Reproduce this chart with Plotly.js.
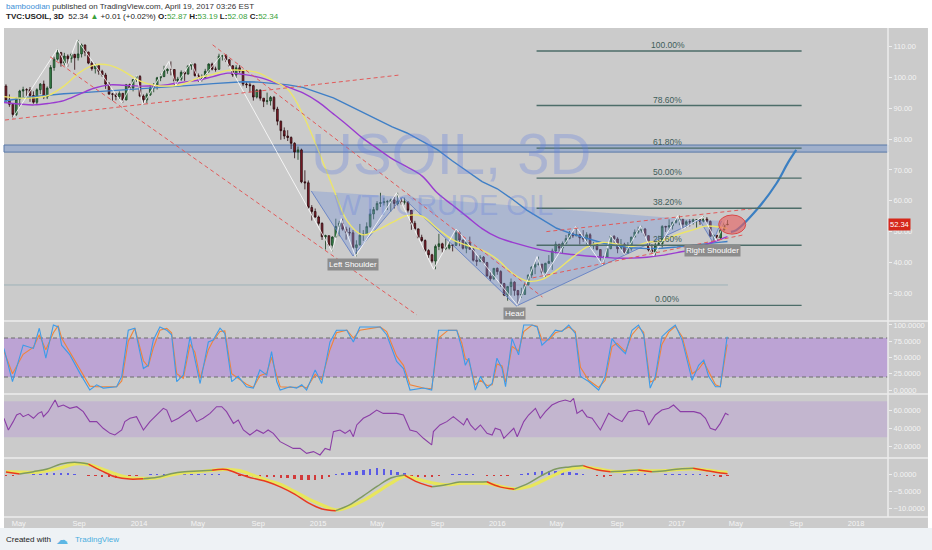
<!DOCTYPE html>
<html><head><meta charset="utf-8">
<script src="https://cdn.plot.ly/plotly-3.0.1.min.js"></script>
<style>html,body{margin:0;padding:0;background:#fff;}#chart{width:932px;height:550px;}</style>
</head><body><div id="chart"></div>
<script>
// ---------- DATA ----------
const firstOpen = 97.23;
const closes = [92.70,91.29,88.01,93.00,95.61,96.04,96.02,94.15,91.97,96.03,97.85,93.69,96.56,103.22,105.95,108.05,104.70,106.94,106.10,107.46,106.42,107.65,110.53,108.21,104.67,102.87,103.84,102.02,100.81,97.85,94.61,94.60,93.84,94.84,92.72,97.65,96.60,99.32,100.32,
93.96,92.72,94.37,96.64,97.49,99.88,100.30,102.20,102.59,102.58,98.89,99.46,101.67,101.14,103.74,104.30,100.60,99.76,99.99,102.02,104.35,102.71,102.66,106.91,107.26,105.74,103.77,100.83,103.13,102.09,97.88,97.65,97.35,93.65,95.96,93.29,92.27,92.41,93.54,89.74,85.82,82.75,81.01,80.54,78.65,75.82,76.51,66.15,65.84,57.81,56.52,54.73,
52.69,48.36,48.69,45.59,48.24,51.69,52.78,50.81,49.76,49.61,44.84,45.72,48.87,49.14,51.64,55.74,57.15,59.15,59.39,59.69,59.72,60.30,59.13,59.96,59.61,59.63,56.93,52.74,50.89,48.14,47.12,43.87,42.50,40.45,45.22,46.05,44.63,44.68,45.70,45.54,49.63,47.26,44.60,46.59,44.29,40.74,40.39,41.71,39.97,35.62,34.73,38.10,
37.04,33.16,29.42,32.19,33.62,30.89,29.44,29.64,32.78,35.92,38.50,39.44,39.46,36.79,39.72,40.36,43.73,45.92,44.66,46.21,47.75,49.33,48.62,49.07,47.98,47.64,48.99,45.41,45.95,44.19,41.60,41.80,44.49,48.52,47.64,44.44,45.88,43.03,44.48,48.24,49.81,50.35,50.85,48.70,44.07,43.41,45.69,46.06,51.68,51.50,51.90,53.02,53.72,
53.99,52.37,53.22,53.17,53.83,53.86,53.40,54.05,53.33,48.49,48.78,47.97,50.60,52.24,52.34];
const highs = [97.8,94.5,91.5,93.5,96.0,97.0,96.5,96.9,95.5,96.5,98.2,99.0,97.1,104.0,106.7,109.3,108.3,108.0,107.5,108.0,107.7,112.2,111.0,110.7,108.4,105.3,104.5,104.0,102.5,101.5,98.5,95.0,95.0,95.5,95.0,97.9,98.0,99.5,100.7,
100.8,94.5,95.0,97.8,98.2,100.2,101.2,103.8,103.0,105.2,102.5,100.2,102.3,102.0,104.0,104.9,104.7,101.3,101.0,102.8,104.6,104.8,103.5,107.7,107.7,107.5,106.0,104.0,104.0,104.0,102.5,98.6,98.4,97.6,96.2,96.0,93.3,95.1,94.0,94.0,90.5,86.0,83.8,82.9,80.9,79.0,77.6,76.9,69.9,66.6,58.6,57.5,
55.2,53.0,49.0,48.7,48.5,54.2,53.5,54.2,51.6,51.3,50.5,47.2,52.5,50.5,53.0,57.4,58.0,59.9,62.6,61.0,60.3,60.7,61.3,62.6,61.0,61.0,59.8,57.0,53.5,51.0,49.0,47.5,44.3,42.8,45.8,49.3,46.4,47.7,47.0,46.0,50.9,50.1,47.4,47.0,48.4,44.8,42.2,42.4,42.1,40.2,37.0,38.2,
38.4,37.5,33.4,32.4,34.8,33.9,31.1,31.8,33.5,36.1,38.8,40.2,41.9,39.5,39.9,42.4,44.5,46.8,46.0,46.8,48.9,50.2,50.0,51.7,49.1,50.5,49.8,49.5,46.7,46.4,44.2,42.2,44.6,48.8,48.8,48.2,47.6,46.4,46.6,48.3,50.7,51.6,51.9,51.2,48.8,45.9,46.4,48.7,52.1,51.9,54.0,53.2,54.3,
55.2,54.0,53.7,54.0,54.2,53.9,54.0,54.9,54.7,53.6,49.1,48.8,50.9,52.9,53.8];
const lows = [92.0,90.5,86.7,87.5,90.5,93.5,93.0,92.1,91.5,91.2,94.6,93.0,93.0,96.3,102.2,105.5,103.5,103.9,103.5,104.8,102.5,105.5,106.5,106.9,104.3,102.2,101.3,100.9,100.2,96.3,94.4,92.5,92.6,92.8,91.8,92.6,96.0,95.5,98.6,
93.6,91.2,91.6,94.0,95.2,96.1,98.8,100.1,101.2,100.7,97.4,97.7,98.9,98.9,100.9,102.5,100.3,98.6,98.7,99.9,101.5,102.3,101.9,102.5,105.5,105.0,103.5,100.2,99.9,101.5,97.2,96.6,95.1,92.5,93.2,92.5,90.4,91.2,90.9,88.9,84.5,79.8,80.0,79.4,76.8,73.8,73.3,65.7,63.7,57.3,53.6,54.5,
52.0,47.3,44.2,45.2,43.6,48.0,48.5,50.3,47.4,48.7,44.4,42.0,45.5,47.0,49.0,51.2,54.0,56.8,58.0,58.5,57.0,56.5,57.5,58.5,58.8,58.8,56.2,50.6,50.4,47.7,46.7,43.3,41.4,39.9,37.8,44.0,43.2,44.0,44.2,43.6,45.5,45.3,44.2,43.0,44.1,40.3,38.9,40.1,39.5,35.4,34.0,34.3,
36.0,32.1,29.1,27.6,29.3,29.2,26.1,28.5,29.5,32.5,35.0,36.2,39.0,36.1,35.3,39.5,37.6,42.9,43.0,43.0,45.9,47.5,48.0,48.6,45.8,46.7,45.8,44.7,44.3,43.9,40.6,39.2,41.6,44.3,46.0,43.0,44.2,42.6,42.9,43.8,48.1,49.3,49.7,48.3,43.6,43.0,42.2,45.5,44.8,49.9,50.3,50.7,52.6,
52.1,50.7,51.3,51.7,52.3,51.3,52.2,53.0,52.6,48.4,47.1,47.1,47.3,50.3,52.1];

// moving averages (monthly readings)
const maYellow = [93.8,93.3,93.4,94.2,97.2,101.5,104.0,104.0,102.0,99.0,97.5,97.2,97.8,99.8,101.0,102.3,102.3,101.5,99.0,96.0,88.0,76.5,64.0,53.5,49.0,50.5,53.0,55.2,55.0,51.0,47.5,45.5,44.0,41.0,36.5,34.0,34.5,37.5,41.5,45.0,46.5,46.0,45.2,46.5,47.0,49.0,50.5,51.8,51.4,51.0];
const maPurple = [91.9,91.4,91.1,91.6,92.5,94.5,96.5,97.6,97.5,97.2,97.3,97.7,98.5,99.1,100.3,101.4,101.0,100.1,98.6,96.9,95.0,92.1,88.2,84.6,80.4,77.0,73.6,71.0,68.0,62.5,58.7,54.8,51.0,48.2,46.5,45.2,44.0,43.2,42.6,42.1,41.7,41.4,41.4,41.7,42.3,43.2,44.2,45.8,47.6,48.4];
const maBlue = [92.3,93.2,93.8,94.3,94.7,95.0,95.3,95.6,95.9,96.3,96.6,96.9,97.2,97.6,98.0,98.4,98.6,98.5,98.1,97.6,96.8,95.2,93.4,91.2,88.8,86.4,84.0,82.0,79.2,76.6,73.0,69.5,66.2,63.9,60.5,57.0,54.0,51.1,49.3,47.8,46.4,45.4,44.8,44.5,44.6,45.0,45.6,46.2,46.6,46.8];

// zigzag pivots
const zzDates = ['2013-04-18','2013-07-19','2013-08-07','2013-08-28','2013-11-27','2013-12-27','2014-01-09','2014-03-03','2014-03-17','2014-04-17','2014-05-05','2014-06-20','2015-01-29','2015-02-17','2015-03-18','2015-06-10','2015-08-24','2015-10-09','2016-02-11','2016-03-22','2016-04-05','2016-06-09','2016-08-02','2016-08-19','2016-09-16','2016-10-19','2016-11-14','2017-01-03','2017-01-12','2017-02-23','2017-03-22','2017-04-12'];
const zzPrices = [86.7,109.3,103.5,112.2,91.8,100.7,91.2,105.2,97.4,104.9,98.6,107.7,43.6,54.2,42.0,62.6,37.8,50.9,26.1,41.9,35.3,51.7,39.2,48.8,42.6,51.9,42.2,55.2,50.7,54.9,47.1,53.8];

// head & shoulders drawing
const lsDates = ['2014-12-18','2015-03-13','2015-06-22'], lsPrices = [63.2,42.1,61.2];
const headDates = ['2015-06-22','2016-02-09','2017-02-16'], headPrices = [61.2,25.9,53.8];
const rsDates = ['2017-02-16','2017-03-15','2017-04-02'], rsPrices = [53.8,46.6,53.5];
const patternLabels = ['Left Shoulder','Head','Right Shoulder'];
const patternLabelDates = ['2015-03-14','2016-02-05','2017-03-15'];
const patternLabelPrices = [39.4,23.3,44.0];

// trend lines [date0, price0, date1, price1]
const trendLines = [
  ['2013-04-03',86.2,'2015-06-16',100.8],
  ['2013-07-04',106.7,'2015-07-21',23.0],
  ['2014-05-31',110.6,'2016-04-02',28.8],
  ['2016-04-10',50.0,'2017-06-12',57.6],
  ['2016-03-13',35.0,'2017-05-15',48.9]
];
// fibonacci retracement
const fibLabels = ['0.00%','23.60%','38.20%','50.00%','61.80%','78.60%','100.00%'];
const fibPrices = [26.1,45.6,57.6,67.35,77.1,90.9,108.6];
const fibSpan = ['2016-03-21','2017-09-12'];
const fibLabelDate = '2016-12-13';
const zoneBand = [75.8,78.1];
const supportLine = {price:32.7, from:'2013-04-01', to:'2017-04-15'};
const ellipse = ['2017-03-27','2017-05-21',49.2,55.4];
const projDates = ['2017-04-21','2017-05-02','2017-06-12','2017-07-23','2017-08-15','2017-09-01'];
const projPrices = [49.9,50.5,57.0,65.7,72.3,76.5];
const lastPrice = 52.34;

// stochastic RSI (x in weeks from first bar)
const stochW = [-0.6,1.9,5.0,8.0,9.7,11.6,13.8,15.2,16.2,18.6,21.5,24.4,26.4,28.3,32.2,33.7,35.6,37.5,40.0,41.4,42.9,44.8,46.8,48.2,49.7,51.6,53.6,55.0,56.5,58.9,60.3,62.3,63.7,65.7,67.6,70.0,72.0,73.9,75.9,77.3,78.8,79.8,82.7,84.6,86.1,87.5,90.0,91.9,94.3,96.2,99.2,101.1,103.0,108.9,110.8,113.7,115.7,117.6,121.5,123.9,125.9,128.7,131.2,132.7,133.7,134.7,136.6,138.1,140.0,141.5,142.9,144.4,145.4,147.3,149.2,150.7,153.1,154.6,156.0,158.0,159.9,161.8,163.8,165.7,167.2,169.6,172.5,174.4,176.4,177.8,180.3,182.2,184.1,185.6,187.5,189.0,190.9,192.9,194.8,196.8,199.7,201.6,203.1,204.5,206.5,207.9,209.9];
const stochK = [64,13,69,64,95,49,100,97,69,54,26,0,8,3,5,21,92,95,33,38,77,97,92,85,13,23,82,49,10,74,77,95,87,13,21,5,3,31,23,59,13,0,5,3,8,0,31,10,74,92,92,74,97,97,85,44,33,0,3,0,92,92,92,64,38,49,0,21,3,10,49,33,5,79,54,100,100,97,69,79,92,90,100,87,21,13,0,21,79,69,56,92,100,85,3,21,82,92,100,77,15,38,46,21,5,5,82];
const stochD = [60,25,55,66,85,62,88,99,80,58,33,6,5,5,5,14,75,95,45,36,65,92,95,88,25,18,70,58,18,62,76,90,91,25,18,9,4,22,26,50,22,5,4,4,6,3,24,16,62,88,92,80,92,97,90,52,38,8,3,2,80,92,92,72,48,45,8,15,7,8,40,37,12,67,60,90,100,98,77,77,88,91,97,90,35,15,4,15,67,72,59,85,97,89,12,16,70,89,98,82,25,32,43,28,8,5,70];

// RSI
const rsiW = [-0.6,0.7,2.1,3.1,4.1,5.0,6.5,8.0,9.4,10.4,10.9,12.3,14.3,15.2,16.7,18.6,20.6,22.5,24.4,26.4,28.3,30.3,31.7,33.7,34.6,36.1,38.0,40.0,41.9,43.9,45.8,46.8,48.2,50.2,52.1,53.6,55.5,57.4,59.4,61.3,62.8,64.2,66.2,67.6,69.1,71.0,73.0,74.9,76.3,77.8,79.8,81.7,83.6,85.6,87.5,89.5,91.4,92.9,94.3,95.3,97.2,98.7,100.1,101.1,102.1,104.0,105.9,107.9,109.8,111.8,113.7,115.7,117.6,119.5,121.5,123.9,124.4,126.3,128.3,130.2,132.1,133.2,134.2,135.2,136.6,138.1,140.0,141.5,142.4,143.9,144.9,146.3,147.8,148.8,150.7,152.1,154.1,155.5,157.0,158.9,160.9,162.8,164.3,165.2,166.2,167.7,169.1,170.6,173.0,175.4,177.4,179.3,181.2,183.7,185.6,187.1,189.0,190.9,192.9,194.3,196.3,198.2,200.2,202.1,203.6,205.0,206.5,207.9,209.4,210.3];
const rsiV = [51.1,38.1,47.4,54.8,56.6,52.9,55.5,51.1,56.6,58.5,52.9,58.5,71.4,64.0,65.9,62.2,64.0,58.5,47.4,47.4,40.0,34.4,32.6,38.1,47.4,51.1,52.9,38.1,47.4,54.8,62.2,60.3,47.4,51.1,56.6,60.3,47.4,51.1,56.6,64.0,64.0,58.5,45.5,49.2,38.1,32.6,38.1,34.4,38.1,34.4,25.2,21.5,17.7,17.7,12.2,14.1,10.4,17.7,15.9,36.3,38.1,34.4,38.1,30.7,43.7,51.1,54.8,60.3,56.6,56.6,56.6,54.8,38.1,36.3,28.9,21.5,36.3,43.7,47.4,52.9,47.4,43.7,51.1,43.7,38.1,43.7,34.4,32.6,40.0,38.1,28.9,34.4,40.0,30.7,47.4,54.8,62.2,51.1,58.5,65.9,69.6,71.4,69.6,73.3,56.6,60.3,52.9,51.1,38.1,56.6,51.1,47.4,58.5,60.3,58.5,43.7,54.8,60.3,62.2,65.9,58.5,58.5,58.5,56.6,51.1,40.0,38.1,45.5,56.6,54.8];

// MACD (every 4 weeks, last at week 210)
const macdW = [0,4,8,12,16,20,24,28,32,36,40,44,48,52,56,60,64,68,72,76,80,84,88,92,96,100,104,108,112,116,120,124,128,132,136,140,144,148,152,156,160,164,168,172,176,180,184,188,192,196,200,204,208,210];
const macdLine = [0.77,0.24,0.9,1.7,3.2,3.7,3.15,1.05,-0.7,-1.3,-1.2,-0.77,0.3,0.9,1.1,1.3,1.55,0.15,-1.1,-2.1,-3.7,-5.8,-8.4,-10.2,-10.7,-9.0,-6.3,-3.5,-1.0,-0.1,-2.3,-3.6,-3.0,-2.2,-2.2,-2.1,-3.7,-4.3,-2.6,-0.2,1.7,2.3,2.7,1.5,0.9,1.1,1.4,0.9,1.2,1.7,1.9,1.2,0.5,0.3];
const macdSignal = [0.9,0.8,0.7,1.2,2.06,3.2,3.0,1.7,0.2,-0.9,-1.1,-0.95,-0.1,0.6,0.9,1.3,1.6,1.2,-0.2,-1.65,-2.9,-5.0,-7.2,-9.0,-10.5,-9.5,-7.7,-5.2,-2.6,-0.5,-1.4,-2.4,-3.0,-2.6,-2.5,-2.6,-3.5,-4.2,-3.6,-1.9,0.1,1.7,2.2,1.8,1.1,0.95,1.3,1.15,1.2,1.6,1.7,1.35,0.85,0.7];
// histogram every 2 weeks
const macdHist = [-0.5,-0.4,-0.2,0.0,0.1,0.2,0.4,0.6,0.6,0.4,0.2,-0.1,-0.3,-0.5,-0.6,-0.8,-0.9,-0.8,-0.5,-0.3,-0.1,0.1,0.2,0.3,0.3,0.3,0.2,0.2,0.2,0.1,0.1,0.1,0.0,-0.2,-0.4,-0.5,-0.6,-0.7,-0.7,-0.8,-0.9,-1.1,-1.3,-1.5,-1.7,-1.6,-1.3,-0.6,0.2,0.6,0.9,1.2,1.5,1.8,2.0,1.8,1.4,0.9,0.4,-0.3,-0.6,-0.8,-0.7,-0.4,-0.1,0.2,0.3,0.2,0.1,-0.2,-0.3,-0.4,-0.3,-0.3,-0.1,0.2,0.5,0.8,1.0,1.1,1.0,0.9,0.7,0.5,0.2,-0.2,-0.5,-0.6,-0.4,-0.2,0.1,0.2,0.2,0.1,-0.2,-0.2,0.1,0.2,0.3,0.3,0.2,0.1,-0.3,-0.5,-0.6,-0.3];

// axis ticks
const xTickDates = ['2013-05-01','2013-09-01','2014-01-01','2014-05-01','2014-09-01','2015-01-01','2015-05-01','2015-09-01','2016-01-01','2016-05-01','2016-09-01','2017-01-01','2017-05-01','2017-09-01','2018-01-01'];
const xTickText = ['May','Sep','2014','May','Sep','2015','May','Sep','2016','May','Sep','2017','May','Sep','2018'];
const priceTicks = [30,40,50,60,70,80,90,100,110];
const stochTicks = [0,25,50,75,100];
const rsiTicks = [20,40,60];
const macdTicks = [-10,-5,0];

// ---------- BUILD ----------
const DAY = 86400000;
const T0 = Date.UTC(2013, 3, 5);
const wd = w => new Date(T0 + Math.round(w * 7 * DAY)).toISOString().slice(0, 16).replace('T', ' ');
const candleDates = closes.map((_, i) => wd(i));
const opens = closes.map((c, i) => i === 0 ? firstOpen : closes[i - 1]);
const maDates = maYellow.map((_, i) => i < 49 ? new Date(Date.UTC(2013, 3 + i, 1)).toISOString().slice(0, 10) : '2017-04-14');

const traces = [];
const triStyle = {type:'scatter', mode:'lines', fill:'toself', fillcolor:'rgba(120,150,215,0.38)', line:{color:'rgba(95,125,195,0.85)', width:1}, hoverinfo:'skip', xaxis:'x', yaxis:'y'};
traces.push(Object.assign({x: lsDates, y: lsPrices}, triStyle));
traces.push(Object.assign({x: headDates, y: headPrices}, triStyle));
traces.push(Object.assign({x: rsDates, y: rsPrices}, triStyle));
traces.push({type:'scatter', mode:'lines', x: maDates, y: maBlue, line:{color:'#3f7fc6', width:1.4}, xaxis:'x', yaxis:'y', hoverinfo:'skip'});
traces.push({type:'scatter', mode:'lines', x: maDates, y: maPurple, line:{color:'#9a3cd0', width:1.4, shape:'spline'}, xaxis:'x', yaxis:'y', hoverinfo:'skip'});
traces.push({type:'scatter', mode:'lines', x: maDates, y: maYellow, line:{color:'#ece56a', width:1.4, shape:'spline'}, xaxis:'x', yaxis:'y', hoverinfo:'skip'});
traces.push({type:'candlestick', x: candleDates, open: opens, high: highs, low: lows, close: closes, xaxis:'x', yaxis:'y',
  increasing:{line:{color:'#163d20', width:0.8}, fillcolor:'#3a8a4c'},
  decreasing:{line:{color:'#2a090d', width:0.8}, fillcolor:'#8a1f2c'}, whiskerwidth:0, hoverinfo:'skip'});
traces.push({type:'scatter', mode:'lines', x: zzDates, y: zzPrices, line:{color:'rgba(255,255,255,0.8)', width:1}, xaxis:'x', yaxis:'y', hoverinfo:'skip'});
traces.push({type:'scatter', mode:'lines', x: projDates, y: projPrices, line:{color:'#3b7fc2', width:2.2, shape:'spline'}, xaxis:'x', yaxis:'y', hoverinfo:'skip'});

// stoch
traces.push({type:'scatter', mode:'lines', x: stochW.map(wd), y: stochD, line:{color:'#f0843a', width:1.1}, xaxis:'x', yaxis:'y2', hoverinfo:'skip'});
traces.push({type:'scatter', mode:'lines', x: stochW.map(wd), y: stochK, line:{color:'#3d9be9', width:1.1}, xaxis:'x', yaxis:'y2', hoverinfo:'skip'});
// rsi
traces.push({type:'scatter', mode:'lines', x: rsiW.map(wd), y: rsiV, line:{color:'#8b3ea6', width:1.1}, xaxis:'x', yaxis:'y3', hoverinfo:'skip'});
// macd
const histDates = macdHist.map((_, j) => wd(2 * j));
traces.push({type:'bar', x: histDates, y: macdHist, marker:{color: macdHist.map(v => v >= 0 ? '#5b5be6' : '#d23a3a')}, width: 5 * DAY, xaxis:'x', yaxis:'y4', hoverinfo:'skip'});
const macdDates = macdW.map(wd);
traces.push({type:'scatter', mode:'lines', x: macdDates, y: macdSignal, line:{color:'#e8e65c', width:3.2, shape:'spline'}, xaxis:'x', yaxis:'y4', hoverinfo:'skip'});
let seg = null;
const segs = [];
for (let i = 0; i < macdLine.length; i++) {
  const up = macdLine[i] >= macdSignal[i];
  if (!seg || seg.up !== up) {
    const s = {up: up, x: [], y: []};
    if (seg) { s.x.push(macdDates[i - 1]); s.y.push(macdLine[i - 1]); }
    segs.push(s); seg = s;
  }
  seg.x.push(macdDates[i]); seg.y.push(macdLine[i]);
}
segs.forEach(s => traces.push({type:'scatter', mode:'lines', x: s.x, y: s.y, line:{color: s.up ? '#7f9a62' : '#e8391f', width:1.5, shape:'spline'}, xaxis:'x', yaxis:'y4', hoverinfo:'skip'}));

// ---------- SHAPES ----------
const shapes = [];
shapes.push({type:'rect', xref:'paper', yref:'paper', x0:0, x1:1.0452, y0:-0.0226, y1:1.0041, fillcolor:'#cbcbcb', line:{width:0}, layer:'below'});
shapes.push({type:'rect', xref:'paper', yref:'paper', x0:-0.01, x1:1.06, y0:-0.075, y1:-0.0226, fillcolor:'#eef2f5', line:{width:0}, layer:'below'});
shapes.push({type:'rect', xref:'paper', yref:'y2', x0:0, x1:1, y0:20, y1:80, fillcolor:'rgba(160,90,230,0.35)', line:{width:0}, layer:'below'});
[20, 80].forEach(v => shapes.push({type:'line', xref:'paper', yref:'y2', x0:0, x1:1, y0:v, y1:v, line:{color:'#6c6c6c', width:1, dash:'4px,3px'}, layer:'below'}));
shapes.push({type:'rect', xref:'paper', yref:'y3', x0:0, x1:1, y0:30, y1:70, fillcolor:'rgba(160,90,230,0.18)', line:{width:0}, layer:'below'});
shapes.push({type:'rect', xref:'paper', yref:'y', x0:0, x1:1, y0:zoneBand[0], y1:zoneBand[1], fillcolor:'rgba(95,135,205,0.4)', line:{color:'#5878a8', width:1}, layer:'below'});
shapes.push({type:'line', xref:'x', yref:'y', x0:supportLine.from, x1:supportLine.to, y0:supportLine.price, y1:supportLine.price, line:{color:'#9fb3ba', width:1}, layer:'below'});
trendLines.forEach(t => shapes.push({type:'line', xref:'x', yref:'y', x0:t[0], y0:t[1], x1:t[2], y1:t[3], line:{color:'#e25a5a', width:1, dash:'4px,3px'}}));
fibPrices.forEach(p => shapes.push({type:'line', xref:'x', yref:'y', x0:fibSpan[0], x1:fibSpan[1], y0:p, y1:p, line:{color:'#4d6d69', width:1.4}}));
shapes.push({type:'circle', xref:'x', yref:'y', x0:ellipse[0], x1:ellipse[1], y0:ellipse[2], y1:ellipse[3], fillcolor:'rgba(232,95,95,0.62)', line:{color:'#d84848', width:1}});
[0.4025, 0.2526, 0.1211, 0].forEach(y => shapes.push({type:'line', xref:'paper', yref:'paper', x0:0, x1:1.0452, y0:y, y1:y, line:{color:'#ececec', width:1.5}}));
shapes.push({type:'line', xref:'paper', yref:'paper', x0:1, x1:1, y0:0, y1:1.0041, line:{color:'#ececec', width:1.5}});

// ---------- ANNOTATIONS ----------
const ann = [];
const FONT = 'Liberation Sans, Arial, sans-serif';
ann.push({xref:'paper', yref:'paper', x:0.506, y:0.747, xanchor:'center', yanchor:'middle', text:'USOIL, 3D', showarrow:false, font:{family:FONT, size:58, color:'rgba(95,125,225,0.30)'}});
ann.push({xref:'paper', yref:'paper', x:0.497, y:0.641, xanchor:'center', yanchor:'middle', text:'WTI CRUDE OIL', showarrow:false, font:{family:FONT, size:29, color:'rgba(95,125,225,0.30)'}});
fibPrices.forEach((p, i) => ann.push({xref:'x', yref:'y', x:fibLabelDate, y:p, yanchor:'bottom', yshift:-1, text:fibLabels[i], showarrow:false, font:{family:FONT, size:8.5, color:'#3e5d5a'}}));
patternLabels.forEach((t, i) => ann.push({xref:'x', yref:'y', x:patternLabelDates[i], y:patternLabelPrices[i], yanchor:'middle', text:t, showarrow:false, bgcolor:'#8c8c8c', borderpad:1, font:{family:FONT, size:8, color:'#ffffff'}}));
ann.push({xref:'paper', yref:'y', x:1, xanchor:'left', yanchor:'middle', y:lastPrice, text:lastPrice.toFixed(2), showarrow:false, bgcolor:'#d5281b', borderpad:1, font:{family:FONT, size:7.5, color:'#ffffff'}});
ann.push({xref:'paper', yref:'paper', x:0, xanchor:'left', yanchor:'middle', y:1.0483, text:'<span style="color:#3d8fd6">bamboodian</span> published on TradingView.com, April 19, 2017 03:26 EST', showarrow:false, font:{family:FONT, size:8, color:'#333333'}});
ann.push({xref:'paper', yref:'paper', x:0, xanchor:'left', yanchor:'middle', y:1.0273, text:'<b>TVC:USOIL, 3D</b>  52.34 <span style="color:#39a13a">▲</span> +0.01 (+0.02%) <b>O:</b><span style="color:#39a13a">52.87</span> <b>H:</b><span style="color:#39a13a">53.19</span> <b>L:</b><span style="color:#39a13a">52.08</span> <b>C:</b><span style="color:#39a13a">52.34</span>', showarrow:false, font:{family:FONT, size:8, color:'#222222'}});
ann.push({xref:'paper', yref:'paper', x:0, xanchor:'left', yanchor:'middle', y:-0.0472, text:'Created with', showarrow:false, font:{family:FONT, size:8, color:'#222222'}});
ann.push({xref:'paper', yref:'paper', x:0.0565, xanchor:'left', yanchor:'middle', y:-0.0472, text:'☁', showarrow:false, font:{family:'DejaVu Sans', size:12, color:'#5cb6e4'}});
ann.push({xref:'paper', yref:'paper', x:0.078, xanchor:'left', yanchor:'middle', y:-0.0472, text:'TradingView', showarrow:false, font:{family:FONT, size:8, color:'#4aaee0'}});

const yBase = {side:'right', anchor:'x', showgrid:false, zeroline:false, showline:false, ticks:'outside', ticklen:3, tickcolor:'#eeeeee', tickfont:{family:FONT, size:7.5, color:'#f3f3f3'}, fixedrange:true};
const layout = {
  width:932, height:550,
  margin:{l:4, r:44, t:30, b:33, pad:0},
  paper_bgcolor:'#ffffff', plot_bgcolor:'rgba(0,0,0,0)',
  showlegend:false, bargap:0,
  font:{family:FONT, size:8, color:'#f3f3f3'},
  xaxis:{type:'date', range:['2013-04-01','2018-03-07'], anchor:'y4', tickvals:xTickDates, ticktext:xTickText, showgrid:false, zeroline:false, showline:false, ticks:'', tickfont:{family:FONT, size:7.5, color:'#f4f4f4'}, rangeslider:{visible:false}, fixedrange:true},
  yaxis:Object.assign({}, yBase, {domain:[0.4045, 1], range:[21.34, 115.4], tickvals:priceTicks, tickformat:'.2f'}),
  yaxis2:Object.assign({}, yBase, {domain:[0.2546, 0.4004], range:[-4.6, 104.6], tickvals:stochTicks, tickformat:'.4f'}),
  yaxis3:Object.assign({}, yBase, {domain:[0.1232, 0.2505], range:[8.1, 77], tickvals:rsiTicks, tickformat:'.4f'}),
  yaxis4:Object.assign({}, yBase, {domain:[0, 0.1191], range:[-12.59, 4.67], tickvals:macdTicks, tickformat:'.4f'}),
  shapes:shapes, annotations:ann
};
Plotly.newPlot('chart', traces, layout, {displayModeBar:false, staticPlot:true});
</script></body></html>
